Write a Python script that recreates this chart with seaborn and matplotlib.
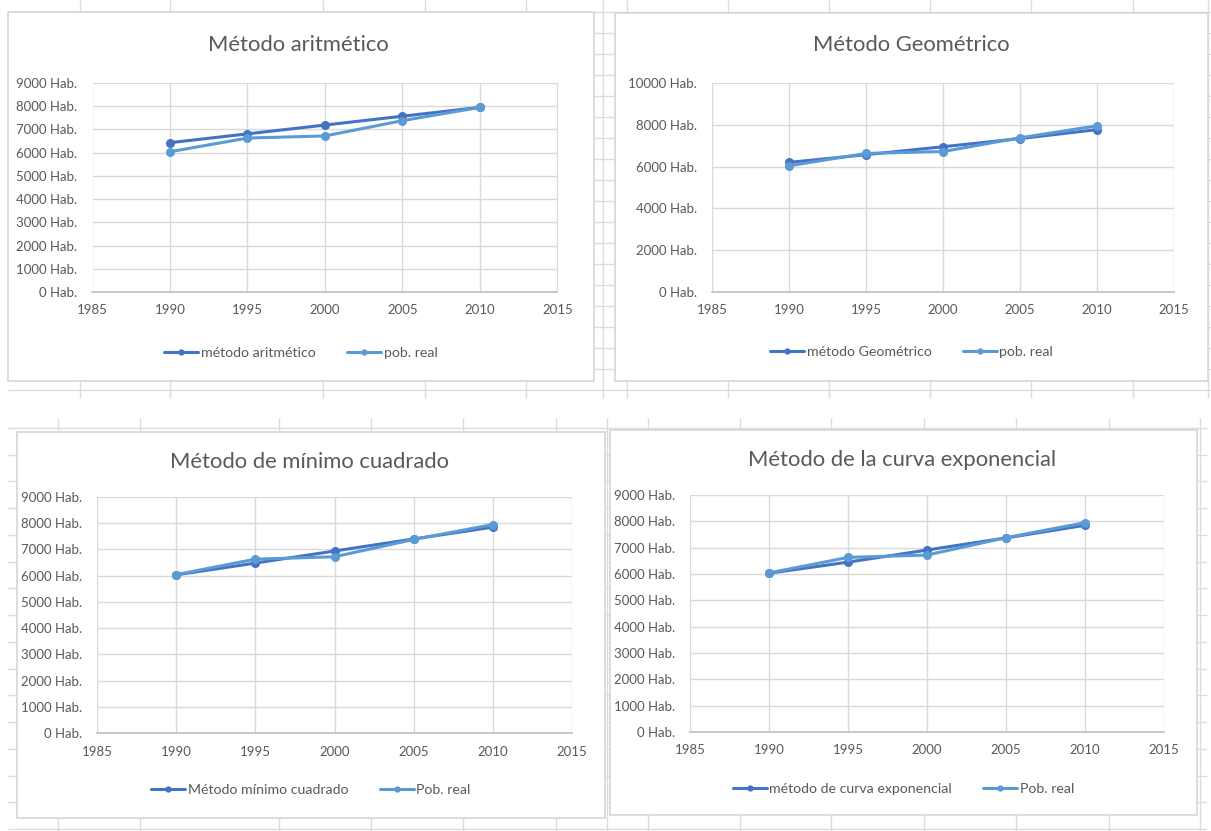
import numpy as np
import pandas as pd
import matplotlib
matplotlib.use("Agg")
import matplotlib.pyplot as plt
from matplotlib.patches import Rectangle
from matplotlib.ticker import FuncFormatter, MultipleLocator
import seaborn as sns

# ---- data -----------------------------------------------------------------
years = [1990, 1995, 2000, 2005, 2010]
pob_real = [6040, 6630, 6720, 7380, 7950]
metodo_aritmetico = [6430, 6810, 7190, 7570, 7950]
metodo_geometrico = [6200, 6570, 6950, 7340, 7770]
metodo_minimo_cuadrado = [6030, 6480, 6940, 7400, 7850]
metodo_curva_exponencial = [6030, 6450, 6910, 7370, 7850]

titles = ["Método aritmético", "Método Geométrico",
          "Método de mínimo cuadrado", "Método de la curva exponencial"]
method_labels = ["método aritmético", "método Geométrico",
                 "Método mínimo cuadrado", "método de curva exponencial"]
real_labels = ["pob. real", "pob. real", "Pob. real", "Pob. real"]
method_values = [metodo_aritmetico, metodo_geometrico,
                 metodo_minimo_cuadrado, metodo_curva_exponencial]
y_max = [9000, 10000, 9000, 9000]
y_step = [1000, 2000, 1000, 1000]

# ---- styling --------------------------------------------------------------
sns.set_theme(style="white")
plt.rcParams["font.family"] = ["Lato", "DejaVu Sans"]
TEXT = "#595959"
GRID = "#d9d9d9"
DARK = "#4472C4"
LIGHT = "#5B9BD5"

W, H = 1211, 831
fig = plt.figure(figsize=(W / 100, H / 100), dpi=100)

# background sheet drawn in pixel coordinates
bg = fig.add_axes([0, 0, 1, 1], zorder=0)
bg.set_xlim(0, W)
bg.set_ylim(H, 0)
bg.axis("off")

cell = "#dcdcdc"
# upper block of cells
for y in np.arange(12, 391, 21):
    bg.hlines(y, 8, W, color=cell, lw=1, zorder=1)
for x in [80, 170, 323, 425, 526, 603, 627, 728, 829, 930, 1031, 1133, 1208]:
    bg.vlines(x, 0, 398, color=cell, lw=1, zorder=1)
# lower block of cells
for y in np.linspace(428, 829, 16):
    bg.hlines(y, 8, 1207, color=cell, lw=1, zorder=1)
for x in [58, 140, 279, 371, 463, 556, 607, 648, 740, 831, 924, 1016, 1109, 1200]:
    bg.vlines(x, 418, H, color=cell, lw=1, zorder=1)

# chart frames (x0, y0, x1, y1) and plot areas (x0, y0, x1, y1) in pixels
frames = [(8, 12, 594, 381), (615, 13, 1208, 381),
          (17, 432, 605, 818), (610, 430, 1197, 815)]
plots = [(92.5, 83, 557.5, 292), (712, 83, 1174, 292),
         (97, 497, 572, 733), (690, 495, 1164, 732)]
title_pos = [(298, 45), (911, 45), (310, 462), (902, 460)]
legend_y = [353, 352, 790, 789]

for (x0, y0, x1, y1) in frames:
    bg.add_patch(Rectangle((x0, y0), x1 - x0, y1 - y0, facecolor="white",
                           edgecolor="#d6d6d6", lw=1.2, zorder=5))

fmt = FuncFormatter(lambda v, p: f"{int(v)} Hab.")

for i in range(4):
    x0, y0, x1, y1 = plots[i]
    ax = fig.add_axes([x0 / W, 1 - y1 / H, (x1 - x0) / W, (y1 - y0) / H], zorder=1)
    ax.set_facecolor("none")

    df = pd.DataFrame({
        "year": years * 2,
        "value": method_values[i] + pob_real,
        "serie": [method_labels[i]] * len(years) + [real_labels[i]] * len(years),
    })
    order = [method_labels[i], real_labels[i]]
    sns.lineplot(data=df, x="year", y="value", hue="serie", hue_order=order,
                 palette=[DARK, LIGHT], marker="o", markersize=6.5,
                 markeredgewidth=0, linewidth=2.2, ax=ax)

    ax.set_xlim(1985, 2015)
    ax.set_ylim(0, y_max[i])
    ax.xaxis.set_major_locator(MultipleLocator(5))
    ax.yaxis.set_major_locator(MultipleLocator(y_step[i]))
    ax.yaxis.set_major_formatter(fmt)
    ax.grid(True, color=GRID, lw=1)
    ax.set_axisbelow(True)
    for s in ["top", "right", "left"]:
        ax.spines[s].set_visible(False)
    ax.spines["bottom"].set_color("#bfbfbf")
    ax.spines["bottom"].set_linewidth(1.2)
    ax.tick_params(axis="both", length=0, labelsize=9.5, colors=TEXT)
    ax.tick_params(axis="y", pad=11)
    ax.tick_params(axis="x", pad=9)
    ax.set_xlabel("")
    ax.set_ylabel("")

    handles, labels = ax.get_legend_handles_labels()
    ax.get_legend().remove()
    fx0, fy0, fx1, fy1 = frames[i]
    fig.legend(handles, labels, loc="center", ncol=2, frameon=False,
               bbox_to_anchor=((fx0 + fx1) / 2 / W, 1 - legend_y[i] / H),
               fontsize=10.2, labelcolor=TEXT, handlelength=2.4,
               handletextpad=0.2, columnspacing=2.2, markerscale=0.7)

    tx, ty = title_pos[i]
    bg.text(tx, ty, titles[i], ha="center", va="center", fontsize=15.8,
            color=TEXT, zorder=6)

fig.savefig("out.png", dpi=100)
